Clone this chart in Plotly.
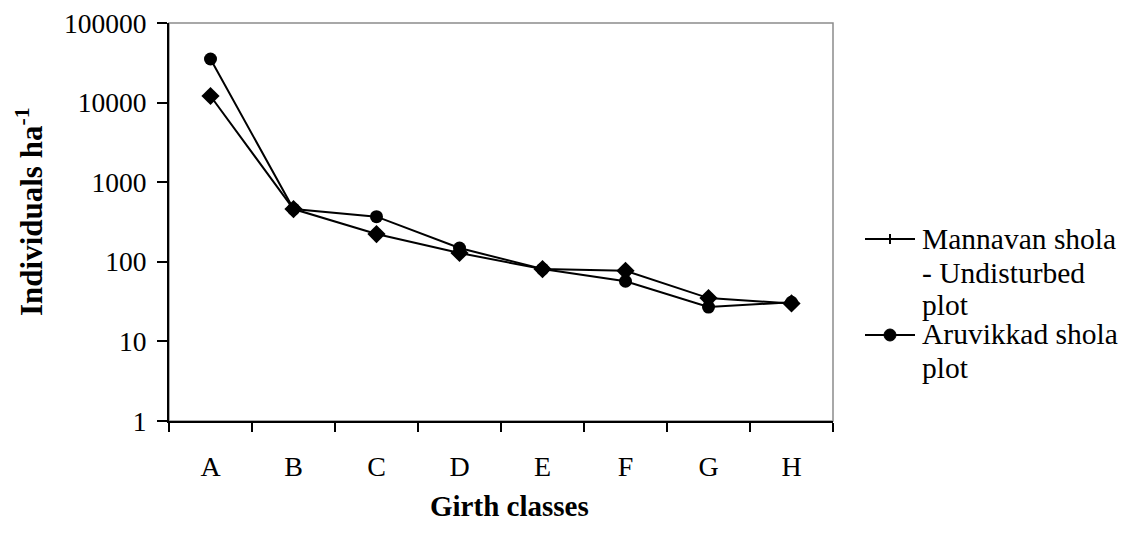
import plotly.graph_objects as go

categories = ["A", "B", "C", "D", "E", "F", "G", "H"]
mannavan = [12100, 460, 223, 129, 81, 77, 35, 30]
aruvikkad = [35300, 460, 369, 149, 81, 57, 27, 31]
ytick_vals = [1, 10, 100, 1000, 10000, 100000]
ytick_text = ["1", "10", "100", "1000", "10000", "100000"]

FONT = "Liberation Serif"
FS_YTICK = 27.5
FS_XTICK = 28
FS_LEG = 29.5
FS_XTITLE = 29
FS_YTITLE = 31

# page size and body margin offset of the html page
PW, PH = 1137, 540
OFF = 8
W, H = PW - 2 * OFF, PH - 2 * OFF
# plot area in page pixels
L, R, T, B = 169, 833, 23, 421


def px(x):
    return (x - L) / (R - L)


def py(y):
    return (B - y) / (B - T)


fig = go.Figure()
fig.add_trace(go.Scatter(x=categories, y=mannavan, mode="lines+markers",
                         name="Mannavan shola - Undisturbed plot",
                         line=dict(color="black", width=2),
                         marker=dict(symbol="diamond", size=14, color="black"),
                         showlegend=False))
fig.add_trace(go.Scatter(x=categories, y=aruvikkad, mode="lines+markers",
                         name="Aruvikkad shola plot",
                         line=dict(color="black", width=2),
                         marker=dict(symbol="circle", size=13, color="black"),
                         showlegend=False))

shapes = [
    dict(type="rect", xref="x domain", yref="y domain", x0=0, x1=1, y0=0, y1=1,
         line=dict(color="#8c8c8c", width=1.5), layer="below"),
    dict(type="line", xref="paper", yref="paper", x0=px(865), x1=px(915),
         y0=py(239), y1=py(239), line=dict(color="black", width=2)),
    dict(type="line", xref="paper", yref="paper", x0=px(890), x1=px(890),
         y0=py(234), y1=py(244), line=dict(color="black", width=2)),
    dict(type="line", xref="paper", yref="paper", x0=px(865), x1=px(915),
         y0=py(335), y1=py(335), line=dict(color="black", width=2)),
    dict(type="circle", xref="paper", yref="paper", x0=px(884), x1=px(896),
         y0=py(341), y1=py(329), fillcolor="black", line=dict(color="black", width=1)),
]

annotations = []
legend_lines = [("Mannavan shola", 239), ("- Undisturbed", 273), ("plot", 305),
                ("Aruvikkad shola", 334), ("plot", 368)]
for txt, yy in legend_lines:
    annotations.append(dict(text=txt, xref="paper", yref="paper", x=px(920), y=py(yy),
                            xanchor="left", yanchor="middle", showarrow=False,
                            font=dict(family=FONT, size=FS_LEG, color="black")))
annotations.append(dict(text="<b>Individuals ha<sup>-1</sup></b>", xref="paper", yref="paper",
                        x=px(29), y=py(212), xanchor="center", yanchor="middle",
                        textangle=-90, showarrow=False,
                        font=dict(family=FONT, size=FS_YTITLE, color="black")))
annotations.append(dict(text="<b>Girth classes</b>", xref="paper", yref="paper",
                        x=px(509), y=py(506), xanchor="center", yanchor="middle",
                        showarrow=False, font=dict(family=FONT, size=FS_XTITLE, color="black")))

fig.update_layout(
    width=W, height=H,
    margin=dict(l=L - OFF, r=W - (R - OFF), t=T - OFF, b=H - (B - OFF)),
    paper_bgcolor="white", plot_bgcolor="white",
    font=dict(family=FONT, size=FS_YTICK, color="black"),
    shapes=shapes, annotations=annotations, showlegend=False,
    xaxis=dict(type="category", range=[-0.5, 7.5], showgrid=False, zeroline=False,
               showline=True, linecolor="black", linewidth=2, automargin=False,
               ticks="outside", ticklen=9, tickwidth=2, tickcolor="black",
               tickson="boundaries", ticklabelstandoff=19, ticklabeloverflow="allow",
               tickfont=dict(family=FONT, size=FS_XTICK, color="black")),
    yaxis=dict(type="log", range=[0, 5], showgrid=False, zeroline=False,
               showline=True, linecolor="black", linewidth=2, automargin=False,
               ticks="outside", ticklen=10, tickwidth=2, tickcolor="black",
               tickvals=ytick_vals, ticktext=ytick_text, ticklabelstandoff=5,
               ticklabeloverflow="allow",
               tickfont=dict(family=FONT, size=FS_YTICK, color="black")),
)

fig.write_html("out.html")
